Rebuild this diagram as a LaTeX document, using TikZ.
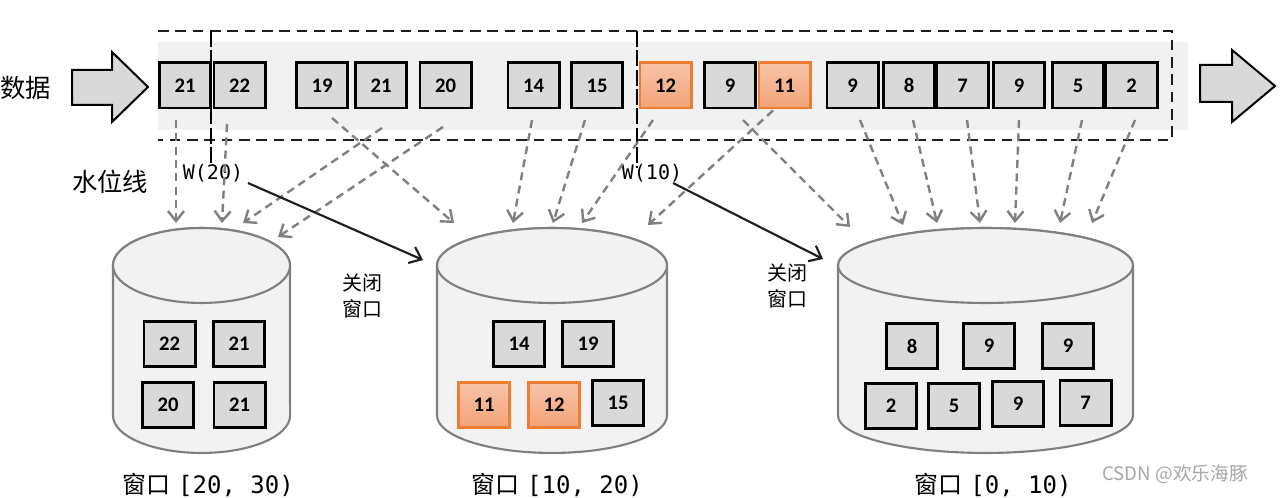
\documentclass[tikz,border=0pt]{standalone}
\usepackage{fontspec}
\setmainfont{Carlito}
\newfontfamily\cjk{Noto Sans CJK SC}
\newfontfamily\monof{DejaVu Sans Mono}
\usetikzlibrary{arrows.meta}
\definecolor{boxgray}{RGB}{217,217,217}
\definecolor{bandgray}{RGB}{241,241,241}
\definecolor{ortop}{RGB}{248,196,168}
\definecolor{orbot}{RGB}{243,163,120}
\definecolor{ordraw}{RGB}{237,125,49}
\definecolor{cylfill}{RGB}{242,242,242}
\definecolor{cyldraw}{RGB}{128,128,128}
\definecolor{dgray}{RGB}{128,128,128}
\definecolor{framec}{RGB}{30,30,30}
\tikzset{
 num/.style={draw=black, line width=2pt, fill=boxgray, minimum width=38.5pt, minimum height=34pt, inner sep=0pt, font=\fontsize{15.5}{17}\selectfont\bfseries},
 ornum/.style={draw=ordraw, line width=2pt, top color=ortop, bottom color=orbot, minimum width=38.5pt, minimum height=34pt, inner sep=0pt, font=\fontsize{15.5}{17}\selectfont\bfseries},
 da/.style={draw=dgray, line width=1.8pt, dash pattern=on 6pt off 4pt, -{Straight Barb[length=7.5pt,width=12pt]}},
 sa/.style={draw=framec, line width=1.6pt, -{Straight Barb[length=8pt,width=13pt]}},
 fr/.style={draw=framec, line width=2.2pt, dash pattern=on 8pt off 5pt},
 wmark/.style={draw=black, line width=2.2pt, dash pattern=on 12pt off 2.5pt},
 cyl/.style={fill=cylfill, draw=cyldraw, line width=1.6pt},
 bigarrow/.style={fill=boxgray, draw=black, line width=1.5pt, line join=miter},
 cjklbl/.style={inner sep=0pt, font=\cjk\fontsize{19}{22}\selectfont},
 winlbl/.style={inner sep=0pt, font=\fontsize{18}{20}\selectfont},
 wlbl/.style={inner sep=0pt, font=\monof\fontsize{15}{17}\selectfont},
}
\begin{document}
\begin{tikzpicture}[x=0.75pt,y=-0.75pt]
\useasboundingbox (0,0) rectangle (1280,498);
\fill[white] (0,0) rectangle (1280,498);
% band
\fill[bandgray] (158,42) rectangle (1188,130);
% big arrows
\filldraw[bigarrow] (72,70) -- (112,70) -- (112,52) -- (148,87) -- (112,122) -- (112,105) -- (72,105) -- cycle;
\filldraw[bigarrow] (1200,65) -- (1232,65) -- (1232,50) -- (1275,86) -- (1232,122) -- (1232,102) -- (1200,102) -- cycle;
\node[cjklbl] (data) at (26,88) {数据};
\node[cjklbl] (wline) at (110,182) {水位线};
% top boxes
\node[num] (t1) at (185,85.5) {21};
\node[num] (t2) at (239.5,85.5) {22};
\node[num] (t3) at (322,85.5) {19};
\node[num] (t4) at (381,85.5) {21};
\node[num] (t5) at (445.5,85.5) {20};
\node[num] (t6) at (533.5,85.5) {14};
\node[num] (t7) at (597,85.5) {15};
\node[ornum] (t8) at (665.5,85.5) {12};
\node[num] (t9) at (730,85.5) {9};
\node[ornum] (t10) at (784.5,85.5) {11};
\node[num] (t11) at (852.5,85.5) {9};
\node[num] (t12) at (909,85.5) {8};
\node[num] (t13) at (962.5,85.5) {7};
\node[num] (t14) at (1019,85.5) {9};
\node[num] (t15) at (1078,85.5) {5};
\node[num] (t16) at (1131.5,85.5) {2};
% frame
\draw[fr] (158,31) -- (1172,31) -- (1172,140) -- (158,140);
\draw[wmark] (211,31) -- (211,165);
\draw[wmark] (637,31) -- (637,168);
\node[wlbl] (w20) at (213,173) {W(20)};
\node[wlbl] (w10) at (652,173) {W(10)};
% cylinders
\path[cyl] (113,265.5) -- (113,415.5) arc[start angle=180,end angle=360,x radius=66.4pt,y radius=28.1pt] -- (290,265.5) arc[start angle=0,end angle=180,x radius=66.4pt,y radius=28.1pt] -- cycle;
\draw[cyl] (201.5,265.5) ellipse[x radius=66.4pt,y radius=28.1pt];
\path[cyl] (437,265.5) -- (437,415.5) arc[start angle=180,end angle=360,x radius=86.25pt,y radius=28.1pt] -- (667,265.5) arc[start angle=0,end angle=180,x radius=86.25pt,y radius=28.1pt] -- cycle;
\draw[cyl] (552,265.5) ellipse[x radius=86.25pt,y radius=28.1pt];
\path[cyl] (838,265.5) -- (838,415.5) arc[start angle=180,end angle=360,x radius=110.6pt,y radius=28.1pt] -- (1133,265.5) arc[start angle=0,end angle=180,x radius=110.6pt,y radius=28.1pt] -- cycle;
\draw[cyl] (985.5,265.5) ellipse[x radius=110.6pt,y radius=28.1pt];
% boxes in cylinders
\node[num] (a1) at (169.5,344) {22};
\node[num] (a2) at (239,344) {21};
\node[num] (a3) at (168,405) {20};
\node[num] (a4) at (239.5,405) {21};
\node[num] (b1) at (519,344) {14};
\node[num] (b2) at (588,344) {19};
\node[ornum] (b3) at (484,405) {11};
\node[ornum] (b4) at (554,405) {12};
\node[num] (b5) at (618,403) {15};
\node[num] (c1) at (912,346) {8};
\node[num] (c2) at (989,346) {9};
\node[num] (c3) at (1068,346) {9};
\node[num] (c4) at (891,406) {2};
\node[num] (c5) at (954,406) {5};
\node[num] (c6) at (1018,404) {9};
\node[num] (c7) at (1085.5,403) {7};
% arrow targets
\coordinate (e1) at (176,223);
\coordinate (e2) at (222,223);
\coordinate (e3) at (243,223);
\coordinate (e4) at (278,237);
\coordinate (e5) at (454,223);
\coordinate (e6) at (513,223);
\coordinate (e7) at (553,223);
\coordinate (e8) at (582,223);
\coordinate (e9) at (648,225);
\coordinate (e10) at (850,227);
\coordinate (e11) at (903,225);
\coordinate (e12) at (937,223);
\coordinate (e13) at (980,223);
\coordinate (e14) at (1015,223);
\coordinate (e15) at (1060,223);
\coordinate (e16) at (1092,223);
\coordinate (s20) at (423,260);
\coordinate (s10) at (823,259);
% dashed arrows
\draw[da] ([shift={(-9,10.5)}]t1.south) -- (e1);
\draw[da] ([shift={(-12.5,14.5)}]t2.south) -- (e2);
\draw[da] ([shift={(1,18.5)}]t4.south) -- (e3);
\draw[da] ([shift={(-2.5,17.5)}]t5.south) -- (e4);
\draw[da] ([shift={(10,8.5)}]t3.south) -- (e5);
\draw[da] ([shift={(-1.5,10.5)}]t6.south) -- (e6);
\draw[da] ([shift={(-12,10.5)}]t7.south) -- (e7);
\draw[da] ([shift={(-12.5,10.5)}]t8.south) -- (e8);
\draw[da] ([shift={(-11.5,1)}]t10.south) -- (e9);
\draw[da] ([shift={(13,10.5)}]t9.south) -- (e10);
\draw[da] ([shift={(7.5,10.5)}]t11.south) -- (e11);
\draw[da] ([shift={(4,10.5)}]t12.south) -- (e12);
\draw[da] ([shift={(4.5,10.5)}]t13.south) -- (e13);
\draw[da] ([shift={(0,10.5)}]t14.south) -- (e14);
\draw[da] ([shift={(4,10.5)}]t15.south) -- (e15);
\draw[da] ([shift={(3.5,10.5)}]t16.south) -- (e16);
% solid arrows
\draw[sa] ([shift={(35,10)}]w20.center) -- (s20);
\draw[sa] ([shift={(21,10)}]w10.center) -- (s10);
% labels
\node[align=center, inner sep=0pt, font=\cjk\fontsize{15}{19}\selectfont] (cl1) at (362,296) {关闭\\窗口};
\node[align=center, inner sep=0pt, font=\cjk\fontsize{15}{19}\selectfont] (cl2) at (787,286) {关闭\\窗口};
\node[winlbl] (l1) at (208,485) {{\cjk 窗口}\hspace{6pt}{\monof [20, 30)}};
\node[winlbl] (l2) at (557,485) {{\cjk 窗口}\hspace{6pt}{\monof [10, 20)}};
\node[winlbl] (l3) at (993,485) {{\cjk 窗口}\hspace{6pt}{\monof [0, 10)}};
\node[inner sep=0pt, text=black!35, font=\cjk\fontsize{14}{16}\selectfont] (wm) at (1175,474) {CSDN @欢乐海豚};
\end{tikzpicture}
\end{document}
